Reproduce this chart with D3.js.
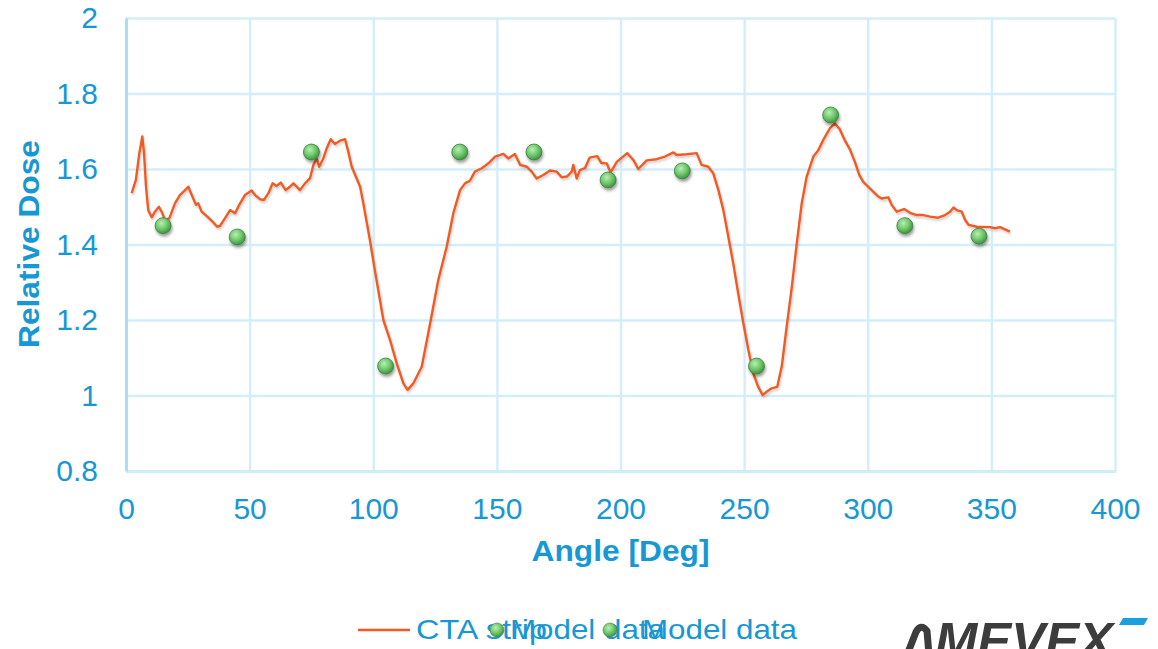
<!DOCTYPE html>
<html>
<head>
<meta charset="utf-8">
<script src="https://cdn.jsdelivr.net/npm/d3@7"></script>
<style>
  body { margin: 0; background: #fff; }
  svg { display: block; font-family: "Liberation Sans", Arial, sans-serif; }
</style>
</head>
<body>
<svg id="chart" width="1158" height="649"></svg>
<script>
// CTA strip measurement (angle in deg, relative dose)
const ctaAngle = [2.3, 4.0, 5.4, 6.6, 7.3, 8.1, 9.0, 10.4, 11.7, 13.3, 14.4, 15.8, 17.5, 19.8, 21.8, 23.9, 25.2, 26.6, 28.3, 29.2,
  30.6, 32.9, 35.1, 36.9, 38.0, 40.0, 42.1, 44.1, 45.8, 48.1, 50.8, 52.2, 54.2, 55.8, 57.6, 59.3, 60.9, 62.6, 64.6, 66.3,
  67.7, 70.4, 72.4, 74.4, 75.8, 77.1, 78.1, 79.8, 81.2, 82.8, 84.5, 86.6, 88.6, 89.9, 91.3, 93.3, 94.7, 96.0, 98.7, 100.7,
  104.1, 106.8, 109.5, 112.2, 113.9, 116.2, 119.6, 123.0, 126.3, 129.7, 132.4, 135.1, 137.1, 139.1, 141.1, 143.9, 146.6, 149.3, 152.6, 154.6,
  157.3, 159.4, 162.1, 164.1, 166.1, 168.8, 171.5, 174.2, 176.2, 178.3, 180.3, 180.9, 182.3, 183.6, 185.6, 187.5, 190.6, 192.2, 194.4, 196.0,
  198.5, 202.7, 205.2, 207.2, 210.6, 214.6, 218.0, 221.4, 222.7, 226.8, 230.8, 232.8, 235.5, 237.5, 239.6, 241.6, 243.6, 245.6, 247.6, 249.7,
  251.7, 253.7, 255.7, 257.5, 259.1, 261.1, 263.4, 265.2, 267.2, 269.3, 271.3, 273.3, 275.3, 278.0, 280.0, 282.0, 284.7, 286.7, 288.7, 290.8,
  292.8, 294.8, 296.6, 298.2, 300.2, 302.2, 304.3, 305.6, 308.3, 309.7, 311.7, 314.7, 317.1, 319.8, 322.5, 325.2, 328.5, 331.3, 333.3, 334.7,
  336.0, 338.0, 339.4, 340.8, 344.1, 349.5, 351.5, 353.5, 355.5, 357.5];
const ctaDose = [1.536, 1.571, 1.642, 1.686, 1.642, 1.553, 1.491, 1.472, 1.487, 1.500, 1.487, 1.465, 1.469, 1.509, 1.531, 1.544, 1.553, 1.531, 1.505, 1.509,
  1.487, 1.474, 1.460, 1.447, 1.449, 1.469, 1.491, 1.483, 1.505, 1.531, 1.543, 1.531, 1.520, 1.518, 1.536, 1.562, 1.555, 1.564, 1.544, 1.553,
  1.562, 1.544, 1.562, 1.575, 1.611, 1.628, 1.606, 1.628, 1.655, 1.679, 1.666, 1.675, 1.679, 1.646, 1.606, 1.575, 1.553, 1.509, 1.410, 1.330,
  1.200, 1.147, 1.085, 1.032, 1.015, 1.032, 1.076, 1.191, 1.306, 1.394, 1.483, 1.544, 1.562, 1.569, 1.593, 1.602, 1.615, 1.633, 1.640, 1.628,
  1.640, 1.611, 1.606, 1.593, 1.575, 1.584, 1.596, 1.593, 1.578, 1.580, 1.593, 1.611, 1.575, 1.597, 1.602, 1.630, 1.634, 1.616, 1.615, 1.591,
  1.619, 1.642, 1.624, 1.600, 1.623, 1.626, 1.633, 1.644, 1.637, 1.639, 1.642, 1.611, 1.606, 1.589, 1.544, 1.491, 1.421, 1.350, 1.271, 1.191,
  1.121, 1.059, 1.023, 1.001, 1.010, 1.019, 1.023, 1.076, 1.182, 1.288, 1.403, 1.509, 1.580, 1.633, 1.650, 1.677, 1.708, 1.721, 1.705, 1.675,
  1.652, 1.619, 1.584, 1.566, 1.553, 1.540, 1.527, 1.522, 1.525, 1.505, 1.487, 1.494, 1.484, 1.478, 1.478, 1.474, 1.471, 1.478, 1.487, 1.498,
  1.491, 1.487, 1.465, 1.452, 1.447, 1.446, 1.443, 1.446, 1.440, 1.434];

// Model data
const modelAngle = [15, 45, 75, 105, 135, 165, 195, 225, 255, 285, 315, 345];
const modelDose = [1.45, 1.42, 1.645, 1.078, 1.645, 1.645, 1.571, 1.595, 1.078, 1.743, 1.45, 1.422];

// Ticks
const xTicks = [0, 50, 100, 150, 200, 250, 300, 350, 400];
const yTicks = [0.8, 1, 1.2, 1.4, 1.6, 1.8, 2];

// Legend entries
const legendItems = ['CTA strip', 'Model data', 'Model data'];

const blue = '#1798d4';
const orange = '#f15a22';
const gridColor = '#d3eefa';
const axisColor = '#a0dbf7';

const svg = d3.select('#chart');
const plotLeft = 126, plotRight = 1115, plotTop = 18, plotBottom = 471;

const x = d3.scaleLinear().domain([0, 400]).range([plotLeft, plotRight]);
const y = d3.scaleLinear().domain([0.8, 2]).range([plotBottom, plotTop]);

const defs = svg.append('defs');
const grad = defs.append('radialGradient').attr('id', 'dotFill')
    .attr('cx', '40%').attr('cy', '35%').attr('r', '65%');
grad.append('stop').attr('offset', '0%').attr('stop-color', '#b8eeb2');
grad.append('stop').attr('offset', '55%').attr('stop-color', '#71c96d');
grad.append('stop').attr('offset', '100%').attr('stop-color', '#3f9441');

defs.append('filter').attr('id', 'dotShadow').attr('x', '-50%').attr('y', '-50%').attr('width', '200%').attr('height', '200%')
    .append('feDropShadow').attr('dx', 1).attr('dy', 2.5).attr('stdDeviation', 1.6)
    .attr('flood-color', '#000').attr('flood-opacity', 0.4);
defs.append('filter').attr('id', 'lineShadow').attr('x', '-5%').attr('y', '-5%').attr('width', '110%').attr('height', '110%')
    .append('feDropShadow').attr('dx', 1).attr('dy', 2).attr('stdDeviation', 1.2)
    .attr('flood-color', '#000').attr('flood-opacity', 0.2);

// grid + axes
const xAxis = svg.append('g')
    .attr('transform', `translate(0,${plotBottom})`)
    .call(d3.axisBottom(x).tickValues(xTicks).tickSizeInner(-(plotBottom - plotTop)).tickSizeOuter(0).tickPadding(27));
const yAxis = svg.append('g')
    .attr('transform', `translate(${plotLeft},0)`)
    .call(d3.axisLeft(y).tickValues(yTicks).tickSizeInner(-(plotRight - plotLeft)).tickSizeOuter(0).tickPadding(28)
      .tickFormat(d => String(+d.toFixed(1))));

[xAxis, yAxis].forEach(g => {
  g.selectAll('.tick line').attr('stroke', gridColor).attr('stroke-width', 2.4);
  g.selectAll('.tick text').attr('fill', blue).style('font-size', '30px')
    .style('font-family', '"Liberation Sans", Arial, sans-serif');
  g.select('.domain').attr('stroke', axisColor).attr('stroke-width', 2.6).raise();
});

// axis titles
svg.append('text')
    .attr('x', (plotLeft + plotRight) / 2).attr('y', 561)
    .attr('text-anchor', 'middle')
    .attr('fill', blue).style('font-size', '30px').style('font-weight', 'bold')
    .attr('textLength', 178).attr('lengthAdjust', 'spacingAndGlyphs')
    .text('Angle [Deg]');
svg.append('text')
    .attr('transform', 'translate(39,244) rotate(-90)')
    .attr('text-anchor', 'middle')
    .attr('fill', blue).style('font-size', '30px').style('font-weight', 'bold')
    .attr('textLength', 208).attr('lengthAdjust', 'spacingAndGlyphs')
    .text('Relative Dose');

// CTA strip line
const line = d3.line().x(d => x(d[0])).y(d => y(d[1]));
svg.append('path')
    .datum(ctaAngle.map((a, i) => [a, ctaDose[i]]))
    .attr('d', line)
    .attr('fill', 'none')
    .attr('stroke', orange)
    .attr('stroke-width', 2.4)
    .attr('stroke-linejoin', 'round')
    .attr('filter', 'url(#lineShadow)');

// model data markers
svg.append('g').selectAll('circle')
    .data(modelAngle.map((a, i) => [a, modelDose[i]]))
    .enter().append('circle')
    .attr('cx', d => x(d[0]))
    .attr('cy', d => y(d[1]))
    .attr('r', 8)
    .attr('fill', 'url(#dotFill)')
    .attr('stroke', '#3f7f3f')
    .attr('stroke-width', 0.8)
    .attr('filter', 'url(#dotShadow)');

// legend (entries overlap, as in the source)
const legend = svg.append('g');
legend.append('line').attr('x1', 358).attr('x2', 410).attr('y1', 630).attr('y2', 630)
    .attr('stroke', orange).attr('stroke-width', 2.4);
const legendX = [416, 510, 642];
const legendW = [131, 155, 155];
legend.selectAll('text')
    .data(legendItems)
    .enter().append('text')
    .attr('x', (d, i) => legendX[i]).attr('y', 639)
    .attr('fill', blue).style('font-size', '28px')
    .attr('textLength', (d, i) => legendW[i]).attr('lengthAdjust', 'spacingAndGlyphs')
    .text(d => d);
legend.selectAll('circle')
    .data([497, 610])
    .enter().append('circle')
    .attr('cx', d => d).attr('cy', 630).attr('r', 7)
    .attr('fill', 'url(#dotFill)').attr('stroke', '#3f7f3f').attr('stroke-width', 0.6);

// logo, cut off at the bottom edge
const logo = svg.append('g');
logo.append('path')
    .attr('d', 'M907,655 L916,632 Q921,623 927,631 L929,655')
    .attr('fill', 'none').attr('stroke', '#3c3c3c').attr('stroke-width', 7).attr('stroke-linejoin', 'round');
logo.append('text')
    .attr('x', 935).attr('y', 658)
    .attr('fill', '#3c3c3c').style('font-size', '50px').style('font-weight', 'bold').style('font-style', 'italic')
    .attr('textLength', 178).attr('lengthAdjust', 'spacingAndGlyphs')
    .text('MEVEX');
logo.append('path')
    .attr('d', 'M1123,618 L1148,618 L1144,625 L1119,625 Z')
    .attr('fill', '#1aa0dc');
</script>
</body>
</html>
